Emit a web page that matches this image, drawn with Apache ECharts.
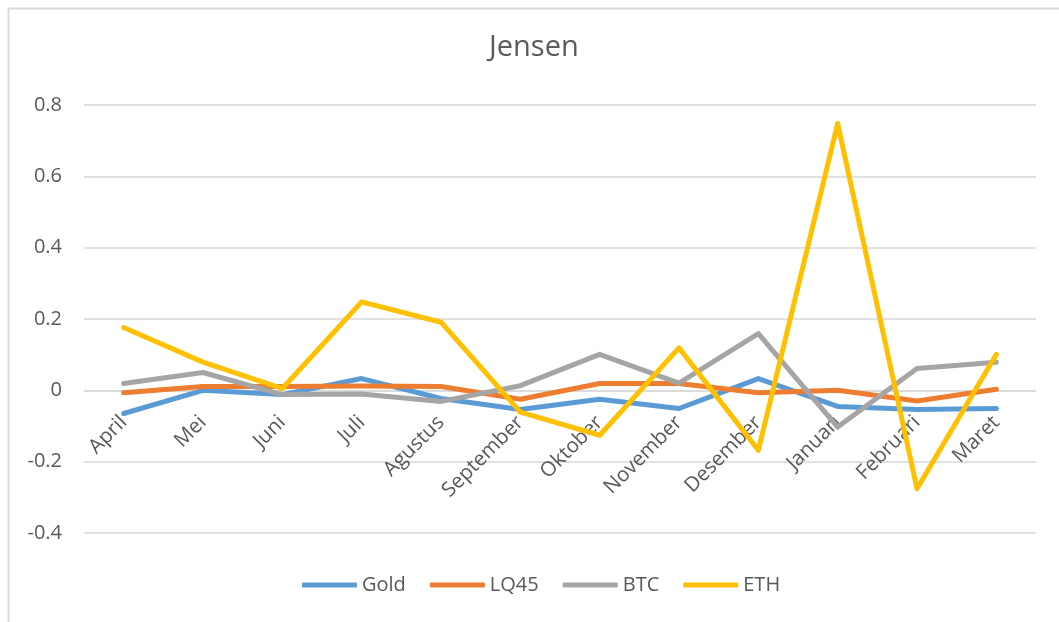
<!DOCTYPE html>
<html>
<head>
<meta charset="utf-8">
<script src="https://cdn.jsdelivr.net/npm/echarts@6/dist/echarts.min.js"></script>
<style>
  html, body { margin: 0; padding: 0; background: #fff; }
  #chart { width: 1059px; height: 622px; }
</style>
</head>
<body>
<div id="chart"></div>
<script>
const months = ['April', 'Mei', 'Juni', 'Juli', 'Agustus', 'September', 'Oktober', 'November', 'Desember', 'Januari', 'Februari', 'Maret']
const gold = [-0.065, 0.0, -0.012, 0.033, -0.023, -0.054, -0.025, -0.051, 0.033, -0.045, -0.054, -0.051]
const lq45 = [-0.007, 0.011, 0.011, 0.012, 0.011, -0.025, 0.019, 0.019, -0.007, 0.0, -0.03, 0.003]
const btc = [0.019, 0.05, -0.012, -0.01, -0.031, 0.013, 0.101, 0.02, 0.159, -0.103, 0.061, 0.079]
const eth = [0.176, 0.079, 0.005, 0.248, 0.191, -0.061, -0.126, 0.119, -0.168, 0.748, -0.276, 0.101]

const yMin = -0.4
const yMax = 0.8

const font = '"Open Sans", sans-serif'
const textColor = '#595959'

// plot area
const gridTop = 105
const gridBottom = 89
const gridHeight = 622 - gridTop - gridBottom
// move the category axis (line + labels) up to the zero line, as in Excel
const zeroOffset = -gridHeight * (0 - yMin) / (yMax - yMin)

function line(name, data, color) {
  return {
    name: name,
    type: 'line',
    data: data,
    symbol: 'none',
    lineStyle: { color: color, width: 5, cap: 'round', join: 'round' },
    itemStyle: { color: color }
  }
}

const myChart = echarts.init(document.getElementById('chart'))
myChart.setOption({
  animation: false,
  textStyle: { fontFamily: font },
  title: {
    text: 'Jensen',
    left: 484,
    top: 28,
    textStyle: { fontSize: 29, fontWeight: 'normal', color: textColor, fontFamily: font }
  },
  graphic: [{
    type: 'rect',
    left: 6, top: 6,
    shape: { width: 1100, height: 700 },
    style: { fill: 'none', stroke: '#d9d9d9', lineWidth: 2 },
    silent: true
  }],
  legend: {
    bottom: 22,
    left: 297,
    icon: 'roundRect',
    itemWidth: 55,
    itemHeight: 5,
    itemGap: 24,
    textStyle: { fontSize: 20, color: textColor, fontFamily: font },
    data: ['Gold', 'LQ45', 'BTC', 'ETH']
  },
  grid: { left: 84, right: 23, top: gridTop, bottom: gridBottom },
  xAxis: {
    type: 'category',
    data: months,
    boundaryGap: true,
    offset: zeroOffset,
    axisLine: { onZero: false, lineStyle: { color: '#d9d9d9', width: 1.5 } },
    axisTick: { show: false },
    axisLabel: { rotate: 45, margin: 29, fontSize: 20.5, color: textColor, fontFamily: font, interval: 0 }
  },
  yAxis: {
    type: 'value',
    min: yMin,
    max: yMax,
    interval: 0.2,
    axisLine: { show: false },
    axisTick: { show: false },
    axisLabel: { margin: 22, fontSize: 20, color: textColor, fontFamily: font },
    splitLine: { lineStyle: { color: '#d9d9d9', width: 1.5 } }
  },
  series: [
    line('Gold', gold, '#5B9BD5'),
    line('LQ45', lq45, '#ED7D31'),
    line('BTC', btc, '#A5A5A5'),
    line('ETH', eth, '#FFC000')
  ]
})
</script>
</body>
</html>
